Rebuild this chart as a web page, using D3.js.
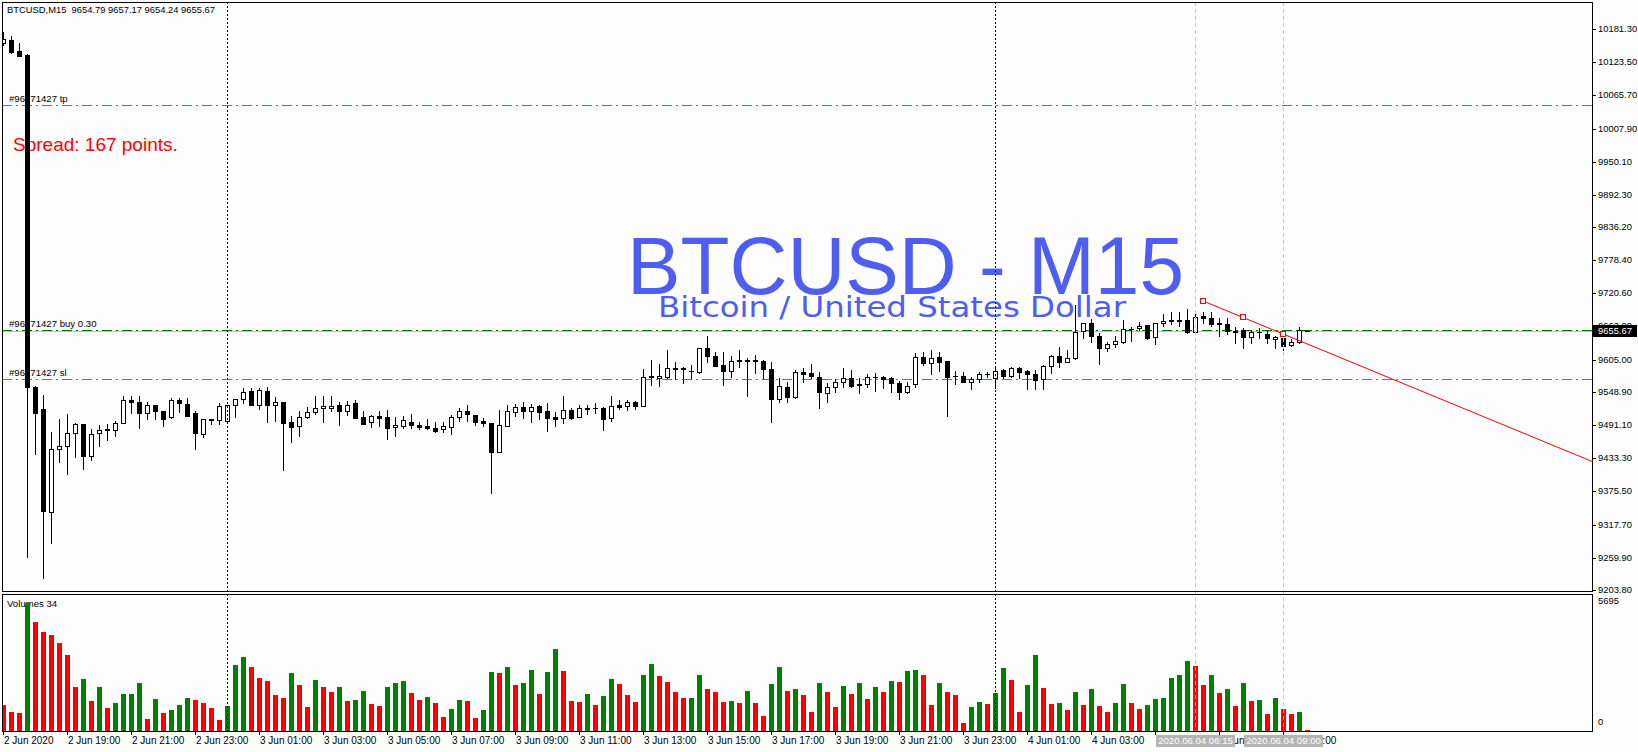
<!DOCTYPE html>
<html><head><meta charset="utf-8">
<script src="https://cdn.jsdelivr.net/npm/d3@7"></script>
<style>html,body{margin:0;padding:0;background:#fcfdfc;overflow:hidden}</style>
</head><body><svg id="c" width="1638" height="752"></svg>
<script>
// ---------------- DATA ----------------
const symbol = "BTCUSD,M15";
const lastQuote = "9654.79 9657.17 9654.24 9655.67";
const bigTitle = "BTCUSD - M15";
const subTitle = "Bitcoin / United States Dollar";
const spreadText = "Spread: 167 points.";
const volumeTitle = "Volumes 34";

const opens = [10156.4,10162.1,10142.9,10136.0,9557.5,9519.2,9339.6,9449.4,9454.7,9477.4,
9493.0,9437.2,9477.4,9482.6,9482.6,9494.8,9534.8,9531.3,9512.2,9526.1,
9515.7,9505.2,9534.8,9527.8,9512.2,9475.6,9501.7,9500.0,9498.3,9526.1,
9536.6,9550.5,9526.1,9550.5,9526.1,9531.3,9496.5,9489.6,9505.7,9513.4,
9520.3,9520.3,9526.1,9516.2,9529.1,9504.7,9496.0,9507.0,9505.2,9487.3,
9490.1,9496.0,9491.3,9489.6,9486.6,9483.8,9488.4,9505.7,9515.7,9508.7,
9498.3,9495.3,9444.8,9490.1,9513.4,9522.1,9516.2,9524.4,9515.7,9505.7,
9503.0,9517.4,9504.7,9519.6,9520.8,9521.5,9503.0,9526.1,9524.9,9530.8,
9524.9,9577.2,9572.7,9575.5,9589.4,9590.1,9584.7,9584.0,9624.9,9612.0,
9595.8,9585.9,9604.0,9603.3,9605.1,9602.8,9588.3,9536.1,9558.0,9540.6,
9583.1,9581.4,9574.2,9546.6,9557.1,9565.8,9572.7,9562.2,9562.2,9575.5,
9575.5,9572.7,9564.0,9548.2,9562.2,9609.3,9598.8,9609.3,9602.8,9577.2,
9577.2,9566.7,9570.9,9579.6,9572.7,9587.1,9577.2,9590.1,9585.4,9579.6,
9570.9,9594.0,9611.5,9601.6,9607.5,9655.1,9668.5,9646.4,9626.0,9631.9,
9635.4,9659.1,9659.8,9665.5,9644.1,9668.5,9673.7,9673.0,9674.3,9653.9,
9681.2,9677.2,9668.5,9667.3,9654.5,9656.8,9645.1,9653.9,9649.9,9640.5,
9643.3,9630.7,9635.4,9654.79];
const highs = [10176.6,10169.1,10156.9,10137.7,9559.2,9543.6,9479.1,9501.7,9510.4,9494.0,
9493.0,9484.3,9491.3,9493.0,9498.3,9541.8,9541.8,9541.8,9531.3,9526.1,
9515.7,9538.3,9538.3,9538.3,9515.7,9501.7,9501.7,9529.6,9526.1,9536.6,
9555.8,9555.8,9555.8,9557.5,9540.1,9531.3,9507.0,9515.7,9522.0,9542.3,
9542.3,9541.3,9530.8,9533.1,9534.8,9515.7,9508.7,9515.7,9517.4,9504.7,
9507.0,9510.4,9496.0,9501.2,9496.0,9496.0,9508.7,9520.3,9526.1,9508.7,
9503.0,9495.3,9517.4,9526.1,9527.8,9530.8,9527.8,9526.1,9529.1,9513.4,
9541.3,9520.3,9526.1,9526.1,9529.1,9523.2,9541.3,9534.8,9534.8,9533.6,
9588.3,9604.5,9597.6,9622.0,9600.4,9592.7,9595.7,9624.9,9646.4,9619.0,
9619.0,9612.0,9622.0,9607.5,9613.2,9604.5,9601.6,9572.7,9566.7,9587.1,
9590.1,9597.6,9584.0,9564.0,9571.0,9590.1,9587.1,9572.7,9580.1,9581.4,
9577.2,9575.5,9568.5,9566.7,9616.3,9619.0,9622.0,9619.0,9602.8,9585.4,
9583.1,9575.5,9584.0,9584.0,9592.7,9588.8,9592.7,9592.7,9587.1,9587.1,
9595.8,9613.2,9626.7,9622.0,9700.4,9669.5,9675.5,9651.1,9636.4,9646.9,
9674.3,9662.5,9670.3,9665.5,9669.5,9684.2,9688.7,9688.7,9692.9,9685.9,
9687.7,9688.7,9677.2,9677.2,9661.5,9660.8,9656.8,9660.8,9656.8,9646.2,
9643.3,9640.6,9662.5,9657.17];
const lows = [10153.4,10139.5,10133.5,9261.2,9440.7,9224.7,9285.7,9426.8,9405.9,9435.5,
9414.6,9430.3,9454.7,9465.1,9472.1,9494.8,9512.2,9486.1,9501.7,9501.7,
9489.5,9503.5,9513.9,9507.0,9449.4,9470.4,9493.0,9493.0,9496.5,9505.2,
9529.6,9526.1,9519.2,9496.5,9498.3,9412.9,9461.6,9472.1,9504.0,9509.9,
9497.0,9516.2,9491.3,9508.7,9504.0,9493.0,9487.3,9489.6,9466.9,9472.1,
9486.6,9486.6,9483.8,9483.8,9479.6,9479.6,9475.6,9498.8,9498.8,9491.3,
9489.6,9372.3,9444.8,9490.1,9507.5,9504.0,9497.0,9501.7,9481.4,9490.1,
9495.3,9501.2,9504.7,9510.4,9512.7,9482.6,9498.8,9518.6,9517.4,9518.6,
9524.9,9561.0,9559.8,9572.7,9571.0,9565.1,9571.0,9581.2,9601.6,9594.6,
9561.0,9574.4,9591.8,9541.8,9581.2,9571.0,9497.0,9531.8,9531.8,9538.9,
9566.7,9572.7,9521.4,9531.8,9548.2,9558.0,9557.1,9546.5,9558.0,9551.1,
9556.3,9548.2,9536.1,9546.5,9558.0,9595.8,9579.6,9585.4,9507.5,9562.2,
9565.6,9554.0,9566.7,9574.4,9555.2,9572.7,9575.5,9572.7,9554.0,9554.0,
9554.0,9582.4,9591.8,9601.6,9606.3,9643.4,9635.4,9597.1,9620.2,9627.7,
9633.7,9637.7,9656.8,9640.6,9631.9,9664.3,9666.7,9663.8,9651.1,9652.1,
9668.5,9664.3,9646.9,9649.4,9633.7,9626.0,9634.7,9643.4,9633.7,9626.0,
9622.0,9629.5,9633.7,9654.24];
const closes = [10163.3,10141.2,10134.2,9557.5,9512.2,9341.4,9449.4,9454.7,9477.4,9493.0,
9437.2,9475.6,9482.6,9484.3,9494.8,9534.8,9531.3,9512.2,9526.1,9515.7,
9501.7,9534.8,9529.6,9507.0,9477.4,9501.7,9500.0,9524.4,9526.1,9536.6,
9548.8,9526.1,9552.3,9526.1,9531.3,9494.8,9487.8,9505.2,9513.4,9520.3,
9524.4,9524.4,9516.2,9526.1,9504.0,9493.0,9507.0,9504.0,9486.6,9491.3,
9500.0,9491.3,9488.4,9485.6,9481.4,9489.6,9504.7,9515.7,9509.9,9497.0,
9494.3,9444.8,9491.3,9515.7,9522.1,9516.2,9523.2,9514.4,9504.0,9501.2,
9517.4,9504.0,9520.3,9520.8,9520.3,9501.7,9524.4,9522.1,9530.8,9524.9,
9575.5,9574.4,9576.7,9590.1,9590.1,9589.4,9585.2,9624.9,9612.0,9594.6,
9585.9,9603.3,9602.8,9604.5,9602.8,9588.3,9536.1,9559.8,9540.6,9583.1,
9579.6,9576.7,9548.1,9557.1,9565.8,9572.7,9559.8,9561.5,9574.4,9574.9,
9571.4,9564.0,9549.3,9559.8,9609.3,9598.8,9607.5,9601.6,9575.5,9576.2,
9566.7,9571.4,9579.6,9580.1,9585.9,9577.2,9590.1,9584.2,9579.6,9569.7,
9594.0,9611.5,9601.6,9607.5,9652.8,9668.5,9646.9,9626.0,9631.9,9637.7,
9659.3,9658.6,9664.3,9643.4,9669.5,9673.0,9672.5,9673.7,9653.9,9680.0,
9677.2,9666.7,9667.8,9655.6,9653.9,9645.1,9652.8,9652.8,9643.4,9644.4,
9628.7,9635.4,9656.8,9655.67];
const volumes = [1154,843,799,5695,4836,4393,4274,3905,3372,1952,
2307,1331,1952,1021,1242,1630,1645,2130,532,1420,
799,932,1154,1464,1375,1242,1021,488,1109,2928,
3283,2840,2352,2219,1597,1464,2574,2041,1065,2263,
1952,1730,1952,1331,1375,1775,1198,1109,1952,2130,
2219,1686,1375,1509,1242,621,976,1375,1331,577,
932,2618,2574,2840,2041,2130,2707,1642,2618,3638,
2662,1331,1287,1642,1154,1553,2307,2085,1597,1287,
2485,2973,2440,2174,1730,1455,1475,2485,1864,1730,
1287,1331,1242,1775,1242,666,2085,2840,1775,1864,
1597,843,2130,1730,1065,1997,1642,2130,1420,1952,
1730,2219,2174,2662,2707,2485,1154,2130,1730,1597,
355,1065,1287,1198,1686,2795,2263,843,2041,3372,
1908,1198,1242,932,1730,1154,1864,1109,843,1242,
2085,1242,976,1154,1420,1464,2352,2485,3106,2884,
2041,2485,1686,1864,1109,2130,1331,1375,754,1464,
976,754,843,34];

const priceTicks = [10181.30,10123.50,10065.70,10007.90,9950.10,9892.30,9836.20,9778.40,9720.60,9663.00,9605.00,9548.90,9491.10,9433.30,9375.50,9317.70,9259.90,9203.80];
const timeTickBars = [0,8,16,24,32,40,48,56,64,72,80,88,96,104,112,120,128,136,144,152,160];
// the 05:00 label is fully hidden behind the 06:15 marker box in the reference
const timeTickLabels = ["2 Jun 2020","2 Jun 19:00","2 Jun 21:00","2 Jun 23:00","3 Jun 01:00","3 Jun 03:00","3 Jun 05:00","3 Jun 07:00","3 Jun 09:00","3 Jun 11:00","3 Jun 13:00","3 Jun 15:00","3 Jun 17:00","3 Jun 19:00","3 Jun 21:00","3 Jun 23:00","4 Jun 01:00","4 Jun 03:00","","4 Jun 07:00","4 Jun 09:00"];
const daySeparatorBars = [28,124];
const markerBars = [149,160];
const markerLabels = ["2020.06.04 06:15","2020.06.04 09:00"];
const orderLevels = [10048.9, 9657.0, 9571.4];
const orderLabels = ["#96471427 tp","#96471427 buy 0.30","#96471427 sl"];
const orderKinds = ["stop","entry","stop"];
const bidPrice = 9655.67;
const trendBars = [150,160];
const trendPrices = [9707.4,9649.9];
const volumeMax = 5695;

// ---------------- LAYOUT ----------------
const W=1638,H=752;
const L=2, R=1592, mainT=2, mainB=592, volT=595, volB=731;
const N = closes.length;
const svg = d3.select("#c");
const FONT = "'Liberation Sans', Arial, sans-serif";
const x = d3.scaleLinear().domain([0, N-1]).range([3, 3+8*(N-1)]);
const y = d3.scaleLinear().domain([9203.8, 10181.3]).range([590, 29]);
const yv = d3.scaleLinear().domain([0, volumeMax]).range([731, 603]);
const px = v => Math.round(v);

svg.append("rect").attr("width",W).attr("height",H).attr("fill","#fcfdfc");
const defs = svg.append("defs");
defs.append("clipPath").attr("id","mainClip").append("rect").attr("x",L+1).attr("y",mainT+1).attr("width",R-L-1).attr("height",mainB-mainT-1);
defs.append("clipPath").attr("id","volClip").append("rect").attr("x",L+1).attr("y",volT+1).attr("width",R-L-1).attr("height",volB-volT-1);

const main = svg.append("g").attr("clip-path","url(#mainClip)").attr("shape-rendering","crispEdges");
// bid line
main.append("line").attr("x1",L).attr("x2",R).attr("y1",px(y(bidPrice))+0.5).attr("y2",px(y(bidPrice))+0.5).attr("stroke","#c0c0c0");
// order lines
orderLevels.forEach((p,i)=>{
  const yy = px(y(p))+0.5;
  main.append("line").attr("x1",L).attr("x2",R).attr("y1",yy).attr("y2",yy)
    .attr("stroke", orderKinds[i]==="entry" ? "#007000" : "#ff4500")
    .attr("stroke-dasharray","10 4 2 4");
  main.append("text").attr("x",9).attr("y",yy-6).attr("dominant-baseline","middle")
    .attr("font-family",FONT).attr("font-size","9.6px").attr("fill","#000").text(orderLabels[i]);
});
// header
main.append("text").attr("x",7).attr("y",11).attr("dominant-baseline","middle")
  .attr("font-family",FONT).attr("font-size","9.4px").attr("fill","#000")
  .attr("xml:space","preserve").text(symbol+"  "+lastQuote);
// spread
main.append("text").attr("x",13).attr("y",151).attr("font-family",FONT).attr("font-size","19px").attr("fill","#ff0000").text(spreadText);
// big title
main.append("text").attr("x",627).attr("y",294).attr("font-family",FONT).attr("font-size","82px")
  .attr("fill","#4d5ef0").attr("textLength",557).attr("lengthAdjust","spacingAndGlyphs").text(bigTitle);
main.append("text").attr("x",658).attr("y",317).attr("font-family","'DejaVu Sans', sans-serif").attr("font-size","28px")
  .attr("fill","#4d5ef0").attr("textLength",468).attr("lengthAdjust","spacingAndGlyphs").text(subTitle);

// candles
const cg = main.append("g");
for (let i=0;i<N;i++){
  const cx = px(x(i));
  const yh = px(y(highs[i])), yl = px(y(lows[i]));
  const yo = px(y(opens[i])), yc = px(y(closes[i]));
  cg.append("line").attr("x1",cx+0.5).attr("x2",cx+0.5).attr("y1",yh).attr("y2",yl+1).attr("stroke","#000");
  const top = Math.min(yo,yc), bot = Math.max(yo,yc);
  if (bot-top < 1) {
    cg.append("line").attr("x1",cx-2).attr("x2",cx+3).attr("y1",top+0.5).attr("y2",top+0.5).attr("stroke","#000");
  } else {
    cg.append("rect").attr("x",cx-1.5).attr("y",top+0.5).attr("width",4).attr("height",bot-top)
      .attr("fill", closes[i]>=opens[i] ? "#ffffff" : "#000000").attr("stroke","#000");
  }
}

// volumes
const vg = svg.append("g").attr("clip-path","url(#volClip)").attr("shape-rendering","crispEdges");
vg.append("text").attr("x",7).attr("y",604).attr("dominant-baseline","middle")
  .attr("font-family",FONT).attr("font-size","9.6px").attr("fill","#000").text(volumeTitle);
volumes.forEach((v,i)=>{
  const cx = px(x(i));
  const top = Math.min(px(yv(v)), volB-1);
  vg.append("rect").attr("x",cx-2).attr("y",top).attr("width",5).attr("height",volB-top)
    .attr("fill", (i>0 && v>volumes[i-1]) ? "#008000" : "#ff0000");
});

// vertical lines
const ov = svg.append("g").attr("shape-rendering","crispEdges");
daySeparatorBars.forEach(b=>{
  const xx = px(x(b))+0.5;
  ov.append("line").attr("x1",xx).attr("x2",xx).attr("y1",mainT).attr("y2",volB).attr("stroke","#000").attr("stroke-dasharray","2 2");
});
markerBars.forEach(b=>{
  const xx = px(x(b))+0.5;
  ov.append("line").attr("x1",xx).attr("x2",xx).attr("y1",mainT).attr("y2",volB).attr("stroke","#c8c8c8").attr("stroke-dasharray","4 3");
});

// trend line
const tg = svg.append("g").attr("clip-path","url(#mainClip)");
const tx1 = x(trendBars[0]), ty1 = y(trendPrices[0]), tx2 = x(trendBars[1]), ty2 = y(trendPrices[1]);
const slope = (ty2-ty1)/(tx2-tx1);
tg.append("line").attr("x1",tx1).attr("y1",ty1).attr("x2",R).attr("y2",ty1+slope*(R-tx1)).attr("stroke","#ff0000").attr("stroke-width",1);
[[tx1,ty1],[(tx1+tx2)/2,(ty1+ty2)/2],[tx2,ty2]].forEach(([a,b])=>{
  tg.append("rect").attr("x",px(a)-2.5).attr("y",px(b)-2.5).attr("width",5).attr("height",5)
    .attr("fill","#ffffff").attr("stroke","#ff0000").attr("shape-rendering","crispEdges");
});

// frames
const fr = svg.append("g").attr("stroke","#000").attr("shape-rendering","crispEdges").attr("fill","none");
fr.append("rect").attr("x",L+0.5).attr("y",mainT+0.5).attr("width",R-L).attr("height",mainB-mainT-1);
fr.append("rect").attr("x",L+0.5).attr("y",volT-0.5).attr("width",R-L).attr("height",volB-volT+1);

// price axis
const ax = svg.append("g").attr("shape-rendering","crispEdges");
priceTicks.forEach(p=>{
  const yy = px(y(p));
  ax.append("line").attr("x1",R).attr("x2",R+4).attr("y1",yy+0.5).attr("y2",yy+0.5).attr("stroke","#000");
  ax.append("text").attr("x",R+6).attr("y",yy+0.5).attr("dominant-baseline","middle")
    .attr("font-family",FONT).attr("font-size","9.4px").attr("fill","#000").text(d3.format(".2f")(p));
});
// current price box
const by = y(bidPrice);
ax.append("rect").attr("x",R+1).attr("y",px(by)-6).attr("width",44).attr("height",12).attr("fill","#000");
ax.append("text").attr("x",R+6).attr("y",px(by)+0.5).attr("dominant-baseline","middle")
  .attr("font-family",FONT).attr("font-size","9.4px").attr("fill","#fff").text(d3.format(".2f")(bidPrice));
// volume axis labels
ax.append("text").attr("x",R+6).attr("y",yv(volumeMax)-1).attr("dominant-baseline","middle")
  .attr("font-family",FONT).attr("font-size","9.4px").attr("fill","#000").text(String(volumeMax));
ax.append("text").attr("x",R+6).attr("y",yv(0)-8).attr("dominant-baseline","middle")
  .attr("font-family",FONT).attr("font-size","9.4px").attr("fill","#000").text("0");

// time axis
timeTickBars.forEach((b,i)=>{
  const xx = px(x(b));
  ax.append("line").attr("x1",xx+0.5).attr("x2",xx+0.5).attr("y1",volB).attr("y2",volB+4).attr("stroke","#000");
  if (timeTickLabels[i]) ax.append("text").attr("x",xx+1).attr("y",741).attr("dominant-baseline","middle")
    .attr("font-family",FONT).attr("font-size","10px").attr("fill","#000").text(timeTickLabels[i]);
});
markerBars.forEach((b,i)=>{
  const xx = px(x(b));
  ax.append("rect").attr("x",xx-39).attr("y",735).attr("width",79).attr("height",12).attr("fill","#b4b4b4");
  ax.append("text").attr("x",xx+0.5).attr("y",741.5).attr("dominant-baseline","middle").attr("text-anchor","middle")
    .attr("font-family",FONT).attr("font-size","9.6px").attr("fill","#fff").text(markerLabels[i]);
});
</script></body></html>
